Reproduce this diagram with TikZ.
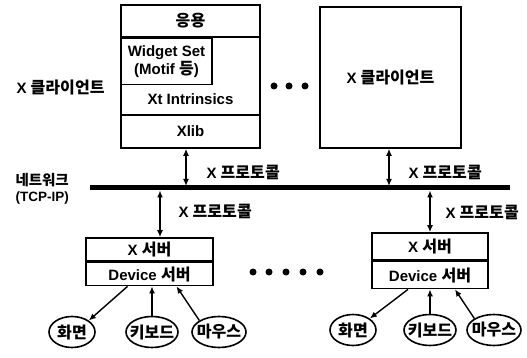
\documentclass[tikz,border=0pt]{standalone}
\usepackage{fontspec}
\setmainfont{Liberation Sans}
\newfontfamily\kr[Scale=1.07]{Noto Sans CJK KR}
\usetikzlibrary{arrows.meta,positioning,shapes.geometric}

\begin{document}
\begin{tikzpicture}[x=1pt,y=-1pt,
          every node/.style={font=\fontsize{15}{18}\selectfont\bfseries},
          layer/.style={draw,line width=1.6pt,inner sep=0pt,align=center},
          devbox/.style={draw,ellipse,line width=1.6pt,minimum width=46,minimum height=31,
                         inner xsep=-7pt,inner ysep=-5pt},
          dotmark/.style={circle,fill,inner sep=0pt,minimum size=7},
          arr/.style={{Latex[length=7pt,width=6pt]}-{Latex[length=7pt,width=6pt]}, line width=1.4pt},
          arrone/.style={-{Latex[length=7pt,width=6pt]}, line width=1.4pt}
      ]
        \useasboundingbox (0,0) rectangle (527,358);

        % left client stack
        \node[layer,minimum width=139,minimum height=143] (cl1) at (190.5,76.5) {};
        \node[layer,minimum width=139,minimum height=32,anchor=north] (app) at (cl1.north) {{\kr 응용}};
        \node[layer,minimum width=91,minimum height=46,anchor=north west] (wid) at (app.south west)
          {Widget Set\\(Motif {\kr 등})};
        \node (xt) at (190.5,99) {Xt Intrinsics};
        \node[layer,minimum width=139,minimum height=33,anchor=south] (xlib) at (cl1.south) {Xlib};
        \node[anchor=west] (cllab) at (13,87) {X {\kr 클라이언트}};

        % second client
        \node[layer,minimum width=141,minimum height=141] (cl2) at (390.5,77.5) {X {\kr 클라이언트}};
        \foreach \x in {274,289,305}
          \node[dotmark] (top\x) at (\x,86) {};

        % network
        \coordinate (netW) at (90,188);
        \coordinate (netE) at (510,188);
        \draw[line width=5pt] (netW) -- (netE);
        \node[anchor=west,align=left,font=\fontsize{13.5}{16}\selectfont\bfseries] (netlab) at (12,189)
          {{\kr 네트워크}\\(TCP-IP)};

        \coordinate (p1) at (186,186);
        \coordinate (p2) at (389,186);
        \coordinate (p3) at (160,190.5);
        \coordinate (p4) at (430,190.5);

        % servers
        \node[layer,minimum width=127,minimum height=23] (xs1) at (149.5,249.5) {X {\kr 서버}};
        \node[layer,minimum width=127,minimum height=23,anchor=north] (ds1) at (xs1.south) {Device {\kr 서버}};
        \node[layer,minimum width=116,minimum height=27] (xs2) at (430,246.5) {X {\kr 서버}};
        \node[layer,minimum width=116,minimum height=27,anchor=north] (ds2) at (xs2.south) {Device {\kr 서버}};
        \foreach \x in {253,269,286,303,320}
          \node[dotmark] (mid\x) at (\x,272) {};

        % protocol links
        \draw[arr] ([xshift=-4.5]xlib.south) -- (p1);
        \draw[arr] ([xshift=-1.5]cl2.south) -- (p2);
        \draw[arr] (p3) -- (p3 |- xs1.north);
        \draw[arr] (p4) -- (p4 |- xs2.north);
        \node[anchor=west] (pr1) at (203,172) {X {\kr 프로토콜}};
        \node[anchor=west] (pr2) at (405,172) {X {\kr 프로토콜}};
        \node[anchor=west] (pr3) at (175,211) {X {\kr 프로토콜}};
        \node[anchor=west] (pr4) at (442,212) {X {\kr 프로토콜}};

        % devices
        \node[devbox] (scr1) at (72,332) {{\kr 화면}};
        \node[devbox,minimum width=52] (kbd1) at (152,332) {{\kr 키보드}};
        \node[devbox,minimum width=54] (mou1) at (219,332) {{\kr 마우스}};
        \node[devbox] (scr2) at (353,330) {{\kr 화면}};
        \node[devbox,minimum width=52] (kbd2) at (430,330) {{\kr 키보드}};
        \node[devbox,minimum width=54] (mou2) at (494,330) {{\kr 마우스}};

        \draw[arrone] ([xshift=-22]ds1.south) -- (scr1.north east);
        \draw[arrone] (kbd1) -- (kbd1 |- ds1.south);
        \draw[arrone] (mou1.north west) -- ([xshift=27]ds1.south);
        \draw[arrone] ([xshift=-22]ds2.south) -- (scr2.north east);
        \draw[arrone] (kbd2) -- (kbd2 |- ds2.south);
        \draw[arrone] (mou2.north west) -- ([xshift=25]ds2.south);
      \end{tikzpicture}
\end{document}
